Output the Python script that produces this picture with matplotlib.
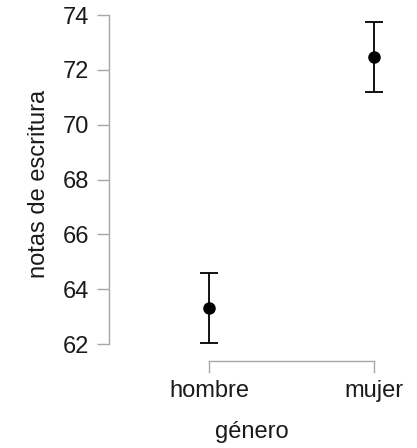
import matplotlib
matplotlib.use("Agg")
import matplotlib.pyplot as plt

# Mean writing score by gender with error bars
generos = ["hombre", "mujer"]
medias = [63.31, 72.47]
errores = [1.27, 1.27]
yticks = [62, 64, 66, 68, 70, 72, 74]

plt.rcParams["font.family"] = ["Liberation Sans", "DejaVu Sans"]

W, H = 417, 448
fig = plt.figure(figsize=(W / 100, H / 100), dpi=100)

# Axes box in pixel coordinates (left, bottom, right, top measured from top)
left_px, right_px = 109, 395
top_px, bottom_px = 7, 361
ax = fig.add_axes([left_px / W, 1 - bottom_px / H,
                   (right_px - left_px) / W, (bottom_px - top_px) / H])

x = list(range(len(generos)))
ax.errorbar(x, medias, yerr=errores, fmt="o", color="black",
            markersize=8, elinewidth=1.3, capsize=6.5, capthick=1.3)

# x scale: category 0 at 209 px, category 1 at 374 px
ppu_x = 374 - 209
ax.set_xlim((left_px - 209) / ppu_x, (right_px - 209) / ppu_x)
# y scale: 74 at 15 px, 62 at 344 px
ppu_y = (344 - 15) / 12
ax.set_ylim(62 - (bottom_px - 344) / ppu_y, 74 + (15 - top_px) / ppu_y)

for s in ["top", "right"]:
    ax.spines[s].set_visible(False)
grey = "#a8a8a8"
ax.spines["left"].set_bounds(62, 74)
ax.spines["bottom"].set_bounds(0, 1)
for s in ["left", "bottom"]:
    ax.spines[s].set_color(grey)
    ax.spines[s].set_linewidth(1.0)

ax.set_yticks(yticks)
ax.set_xticks(x)
ax.set_xticklabels(generos)
ax.tick_params(axis="both", colors=grey, length=8.5, width=1.0,
               labelsize=17, labelcolor="#1a1a1a")
ax.tick_params(axis="y", pad=6)
ax.tick_params(axis="x", pad=5)

ax.set_ylabel("notas de escritura", fontsize=17, color="#1a1a1a", labelpad=9)
ax.set_xlabel("género", fontsize=17, color="#1a1a1a", labelpad=14)

fig.savefig("out.png", dpi=100)
